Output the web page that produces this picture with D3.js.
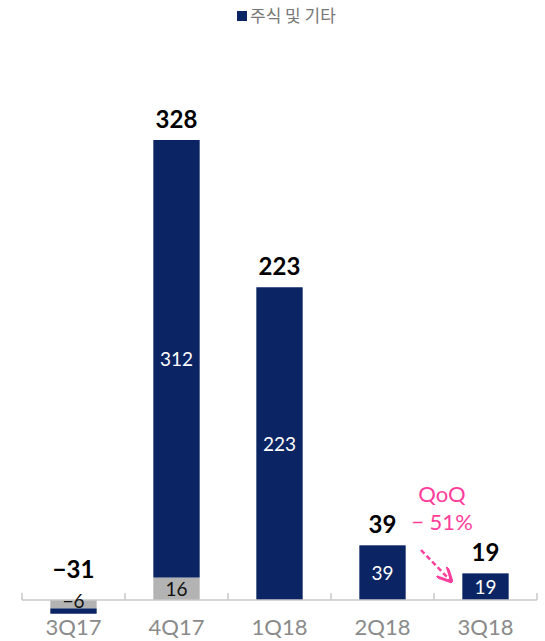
<!DOCTYPE html>
<html>
<head>
<meta charset="utf-8">
<script src="https://cdn.jsdelivr.net/npm/d3@7"></script>
<style>
  body { margin: 0; background: #fff; }
  svg text { font-family: Lato, "Noto Sans", sans-serif; }
  svg text.kr { font-family: "Noto Sans CJK KR", sans-serif; }
</style>
</head>
<body>
<figure id="bar" style="margin:0"></figure>
<script>
// data
const quarters = ["3Q17", "4Q17", "1Q18", "2Q18", "3Q18"];
const stocks = [-3.8, 312, 223, 39, 19];     // navy series (주식 및 기타)
const other = [-6, 16, 0, 0, 0];             // grey part
const stockLabels = ["", "312", "223", "39", "19"];
const otherLabels = ["−6", "16", "", "", ""];
const totals = ["−31", "328", "223", "39", "19"];
const totalVals = [-9.8, 328, 223, 39, 19];
const legendLabel = "주식 및 기타";

const width = 545, height = 641;
const navy = "#0b2463", grey = "#b3b3b3", pink = "#ff3d9b";

const svg = d3.select("figure#bar")
  .append("svg")
  .attr("width", width)
  .attr("height", height);

const x = d3.scaleBand()
  .domain(quarters)
  .range([22, 537])
  .paddingInner(0.55)
  .paddingOuter(0.275);

const y = d3.scaleLinear()
  .domain([0, 328])
  .range([600, 140]);

// stacking: grey sits on the axis, navy goes beyond it
const rows = quarters.map((q, i) => {
  const g0 = 0, g1 = other[i];
  const n0 = g1, n1 = g1 + stocks[i];
  return {q, i, g0, g1, n0, n1};
});

svg.append("g").selectAll("rect.other")
  .data(rows.filter(d => d.g1 !== 0))
  .enter().append("rect")
  .attr("x", d => x(d.q))
  .attr("width", x.bandwidth())
  .attr("y", d => Math.min(y(d.g0), y(d.g1)))
  .attr("height", d => Math.abs(y(d.g0) - y(d.g1)))
  .style("fill", grey);

svg.append("g").selectAll("rect.stock")
  .data(rows)
  .enter().append("rect")
  .attr("x", d => x(d.q))
  .attr("width", x.bandwidth())
  .attr("y", d => Math.min(y(d.n0), y(d.n1)))
  .attr("height", d => Math.abs(y(d.n0) - y(d.n1)))
  .style("fill", navy);

// axis
const xAxis = d3.axisBottom(x).tickSize(0).tickPadding(19);
const ax = svg.append("g")
  .attr("transform", `translate(0,${y(0)})`)
  .call(xAxis);
ax.select(".domain").attr("stroke", "#c8c8c8").attr("stroke-width", 1.5)
  .attr("d", "M22,0H537");
ax.selectAll("text")
  .style("font-family", "Lato, sans-serif")
  .style("font-size", "22px")
  .style("fill", "#8a8a8a");

// small ticks between the categories
const bounds = d3.range(quarters.length + 1).map(i => 22 + i * x.step());
ax.selectAll("line.sep")
  .data(bounds)
  .enter().append("line")
  .attr("x1", d => d).attr("x2", d => d)
  .attr("y1", 0).attr("y2", -7)
  .attr("stroke", "#c8c8c8").attr("stroke-width", 1.5);

// inner labels
svg.append("g").selectAll("text")
  .data(rows.filter(d => stockLabels[d.i] !== ""))
  .enter().append("text")
  .attr("x", d => x(d.q) + x.bandwidth() / 2)
  .attr("y", d => (y(d.n0) + y(d.n1)) / 2 + 7)
  .attr("text-anchor", "middle")
  .style("font-size", "19px")
  .style("fill", "#fff")
  .text(d => stockLabels[d.i]);

svg.append("g").selectAll("text")
  .data(rows.filter(d => otherLabels[d.i] !== ""))
  .enter().append("text")
  .attr("x", d => x(d.q) + x.bandwidth() / 2)
  .attr("y", d => d.g1 < 0 ? y(d.g1) : (y(d.g0) + y(d.g1)) / 2 + 7)
  .attr("text-anchor", "middle")
  .style("font-size", "19px")
  .style("fill", "#111")
  .text(d => otherLabels[d.i]);

// totals above bars
svg.append("g").selectAll("text")
  .data(quarters)
  .enter().append("text")
  .attr("x", (d, i) => x(d) + x.bandwidth() / 2)
  .attr("y", (d, i) => totalVals[i] < 0 ? y(0) - 22 : y(totalVals[i]) - 12)
  .attr("text-anchor", "middle")
  .style("font-size", "24px")
  .style("font-weight", "bold")
  .style("fill", "#000")
  .text((d, i) => totals[i]);

// legend
const lg = svg.append("g");
lg.append("rect").attr("x", 237).attr("y", 11).attr("width", 10).attr("height", 10).style("fill", navy);
lg.append("text").attr("class", "kr").attr("x", 250).attr("y", 22)
  .style("font-size", "17px").style("fill", "#777").text(legendLabel);

// QoQ annotation
const c4 = x("2Q18") + x.bandwidth(), c5 = x("3Q18");
const ann = (c4 + c5) / 2 + 8;
svg.append("text").attr("x", ann).attr("y", 502)
  .attr("text-anchor", "middle").style("font-size", "22px").style("fill", pink).text("QoQ");
svg.append("text").attr("x", ann).attr("y", 530)
  .attr("text-anchor", "middle").style("font-size", "22px").style("fill", pink).text("− 51%");
svg.append("defs").append("marker")
  .attr("id", "arr").attr("viewBox", "0 0 10 10").attr("refX", 8).attr("refY", 5)
  .attr("markerWidth", 6).attr("markerHeight", 6).attr("orient", "auto")
  .append("path").attr("d", "M0,0L10,5L0,10").attr("fill", "none")
  .attr("stroke", pink).attr("stroke-width", 2);
svg.append("line")
  .attr("x1", 421).attr("y1", 550).attr("x2", 450).attr("y2", 580)
  .attr("stroke", pink).attr("stroke-width", 2.5).attr("stroke-dasharray", "5,3")
  .attr("marker-end", "url(#arr)");
</script>
</body>
</html>
